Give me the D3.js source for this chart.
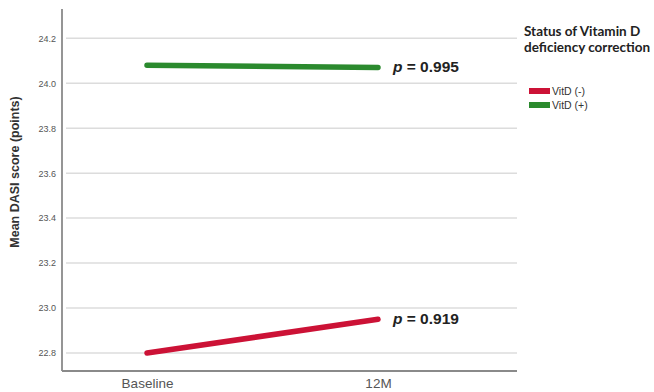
<!DOCTYPE html>
<html>
<head>
<meta charset="utf-8">
<script src="https://cdn.jsdelivr.net/npm/d3@7"></script>
<style>
  html, body { margin: 0; padding: 0; background: #fff; }
  svg { display: block; }
</style>
</head>
<body>
<svg id="chart" width="654" height="392"></svg>
<script>
// Time points on the x axis
const timepoints = ["Baseline", "12M"];
// Mean DASI score per group
const vitdNeg = [22.80, 22.95];
const vitdPos = [24.08, 24.07];
// Group names and p values
const groupNames = ["VitD (-)", "VitD (+)"];
const pValues = ["0.919", "0.995"];
// Y tick values
const yTicks = [22.8, 23.0, 23.2, 23.4, 23.6, 23.8, 24.0, 24.2];
const legendTitle = ["Status of Vitamin D", "deficiency correction"];
const yTitle = "Mean DASI score (points)";

const colors = ["#cc1236", "#2b8a2e"];

const svg = d3.select("#chart");

const plot = { left: 62, right: 517, top: 9, bottom: 371 };

const y = d3.scaleLinear()
  .domain([22.72, 24.33])
  .range([plot.bottom, plot.top]);

const x = d3.scalePoint()
  .domain(timepoints)
  .range([plot.left, plot.left + 401])
  .padding(0.368);

// horizontal grid lines
svg.append("g")
  .selectAll("line")
  .data(yTicks)
  .join("line")
  .attr("x1", plot.left + 4)
  .attr("x2", plot.right)
  .attr("y1", d => y(d))
  .attr("y2", d => y(d))
  .attr("stroke", "#dcdcdc")
  .attr("stroke-width", 1.5);

// y axis
const yAxis = svg.append("g")
  .attr("transform", `translate(${plot.left},0)`)
  .call(d3.axisLeft(y).tickValues(yTicks).tickFormat(d3.format(".1f")).tickSize(0).tickPadding(6));
yAxis.select(".domain").remove();
yAxis.selectAll("text")
  .attr("font-family", "Liberation Sans, Arial, sans-serif")
  .attr("font-size", 9)
  .attr("fill", "#555");

// x axis
const xAxis = svg.append("g")
  .attr("transform", `translate(0,${plot.bottom})`)
  .call(d3.axisBottom(x).tickSize(0).tickPadding(7));
xAxis.select(".domain").remove();
xAxis.selectAll("text")
  .attr("font-family", "Liberation Sans, Arial, sans-serif")
  .attr("font-size", 13.5)
  .attr("fill", "#555");

// axis lines
svg.append("line")
  .attr("x1", plot.left).attr("x2", plot.left)
  .attr("y1", plot.top).attr("y2", plot.bottom)
  .attr("stroke", "#8a8a8a").attr("stroke-width", 1.8);
svg.append("line")
  .attr("x1", plot.left).attr("x2", plot.right)
  .attr("y1", plot.bottom).attr("y2", plot.bottom)
  .attr("stroke", "#8a8a8a").attr("stroke-width", 1.8);

// y title
svg.append("text")
  .attr("transform", `translate(19,${(plot.top + plot.bottom) / 2 - 18}) rotate(-90)`)
  .attr("text-anchor", "middle")
  .attr("font-family", "Liberation Sans, Arial, sans-serif")
  .attr("font-size", 12.5)
  .attr("font-weight", "bold")
  .attr("fill", "#333")
  .text(yTitle);

// group lines
const series = [vitdNeg, vitdPos];
const line = d3.line()
  .x((d, i) => x(timepoints[i]))
  .y(d => y(d));

svg.append("g")
  .selectAll("path")
  .data(series)
  .join("path")
  .attr("d", d => line(d))
  .attr("fill", "none")
  .attr("stroke", (d, i) => colors[i])
  .attr("stroke-width", 5.5)
  .attr("stroke-linecap", "round");

// p value labels at the line ends
const pLab = svg.append("g")
  .selectAll("text")
  .data(series)
  .join("text")
  .attr("x", x(timepoints[1]) + 15)
  .attr("y", d => y(d[1]) + 5)
  .attr("font-family", "Liberation Sans, Arial, sans-serif")
  .attr("font-size", 15.5)
  .attr("font-weight", "bold")
  .attr("fill", "#222");
pLab.append("tspan").attr("font-style", "italic").text("p");
pLab.append("tspan").text((d, i) => " = " + pValues[i]);

// legend
const lg = svg.append("g");
lg.selectAll("text.title")
  .data(legendTitle)
  .join("text")
  .attr("class", "title")
  .attr("x", 524)
  .attr("y", (d, i) => 36 + i * 16)
  .attr("font-family", "Lato, sans-serif")
  .attr("font-size", 13.5)
  .attr("font-weight", "bold")
  .attr("fill", "#222")
  .text(d => d);

const items = lg.selectAll("g.item")
  .data(groupNames)
  .join("g")
  .attr("class", "item")
  .attr("transform", (d, i) => `translate(529,${91 + i * 14})`);
items.append("rect")
  .attr("x", 0).attr("y", -3)
  .attr("width", 21).attr("height", 6)
  .attr("fill", (d, i) => colors[i]);
items.append("text")
  .attr("x", 23).attr("y", 4)
  .attr("font-family", "Liberation Sans, Arial, sans-serif")
  .attr("font-size", 10.5)
  .attr("fill", "#333")
  .text(d => d);
</script>
</body>
</html>
